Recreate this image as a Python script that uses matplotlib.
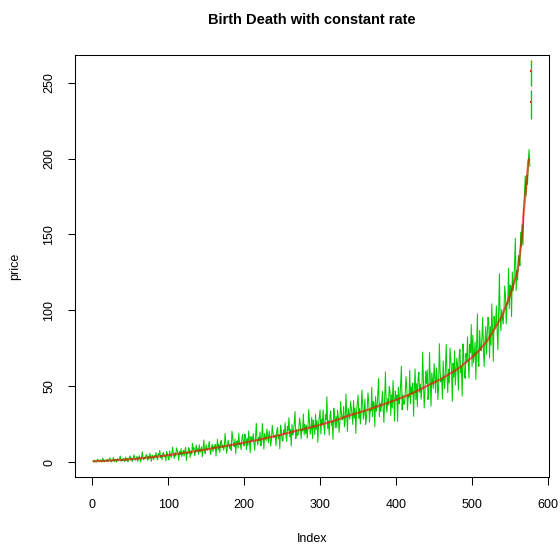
import numpy as np
import matplotlib
matplotlib.use("Agg")
import matplotlib.pyplot as plt

plt.rcParams['font.family'] = ['Liberation Sans', 'DejaVu Sans']

title = "Birth Death with constant rate"
xlabel = "Index"
ylabel = "price"
xticks = [0, 100, 200, 300, 400, 500, 600]
yticks = [0, 50, 100, 150, 200, 250]

# red curve (sorted price), read at knots
red_idx = [1, 20, 40, 60, 80, 100, 120, 140, 160, 180, 200, 220, 240, 260, 280, 300,
           320, 340, 360, 380, 400, 420, 440, 460, 480, 500, 510, 520, 530, 540,
           550, 555, 560, 565, 568, 571, 574, 575]
red_val = [0.5, 0.9, 1.5, 2.3, 3.3, 4.6, 6.0, 7.5, 9.2, 11.0, 12.8, 14.8, 17.0, 19.5,
           22.0, 24.5, 27.5, 31.0, 34.0, 37.5, 41.0, 45.0, 50.0, 55.0, 61.0, 69.0,
           74.0, 80.0, 88.0, 97.0, 110.0, 118.0, 126.0, 145.0, 165.0, 180.0, 198.0, 200.0]
red_top_idx = [577, 578]
red_top_val = [237.0, 258.0]

# green noisy series, index 1..576
green_vals = [
    0.8, 0.1, 1.3, 0.7, 0.1, 0.3, 2.0, 1.1, 0.5, 0.7, 1.6, 0.1, 0.3, 2.6, 1.1, 0.1, 1.4, 1.0, 0.6, 1.9,
    0.4, 1.2, 2.7, 1.9, 0.1, 1.1, 1.0, 3.2, 0.4, 1.8, 1.7, 0.1, 2.3, 0.9, 1.4, 2.6, 4.0, 0.5, 1.7, 0.9,
    2.5, 1.5, 0.3, 3.4, 1.2, 2.5, 0.1, 2.0, 3.1, 4.1, 1.2, 2.5, 0.5, 2.1, 4.8, 3.1, 1.2, 2.0, 3.8, 0.6,
    2.6, 4.2, 1.8, 0.1, 3.4, 6.8, 2.6, 1.5, 3.3, 2.5, 4.9, 4.4, 1.1, 3.9, 2.1, 5.8, 3.4, 0.5, 4.5, 3.3,
    1.6, 4.4, 3.4, 6.3, 3.2, 1.5, 5.5, 4.5, 7.7, 2.9, 4.3, 1.6, 5.5, 6.3, 3.6, 4.3, 0.9, 6.9, 5.6, 3.2,
    1.5, 7.4, 4.3, 3.0, 6.7, 9.9, 5.0, 2.4, 6.1, 3.9, 9.4, 7.7, 5.9, 1.1, 7.0, 4.8, 8.9, 3.6, 5.9, 7.8,
    4.0, 7.6, 9.7, 1.2, 6.3, 5.4, 9.5, 8.6, 3.1, 7.2, 5.3, 12.4, 8.0, 9.5, 4.1, 6.7, 11.3, 7.3, 8.9, 5.0,
    11.4, 6.5, 8.2, 10.0, 3.5, 9.1, 14.6, 6.5, 5.5, 11.6, 8.4, 7.9, 10.2, 13.6, 7.7, 5.0, 9.5, 11.8, 6.9, 10.3,
    9.2, 11.7, 4.0, 10.1, 15.0, 7.9, 11.6, 6.3, 13.0, 14.3, 9.6, 11.4, 7.9, 10.4, 18.9, 12.4, 5.9, 9.6, 14.5, 11.6,
    8.9, 11.8, 7.7, 20.4, 15.6, 11.5, 10.2, 15.2, 5.5, 13.3, 14.1, 9.2, 19.1, 11.5, 12.3, 8.2, 15.3, 18.2, 13.4, 10.7,
    18.4, 16.9, 8.2, 15.5, 10.8, 20.5, 14.2, 6.3, 16.8, 13.7, 14.7, 18.8, 12.5, 7.8, 16.7, 25.6, 14.5, 11.4, 16.3, 14.0,
    19.9, 10.7, 12.5, 25.4, 17.0, 8.6, 18.9, 16.5, 14.1, 21.8, 17.7, 12.7, 20.5, 17.2, 10.5, 14.9, 24.3, 19.4, 16.1, 17.0,
    17.9, 10.8, 20.9, 22.8, 15.7, 17.7, 8.8, 24.2, 20.7, 14.6, 13.8, 21.1, 18.6, 25.9, 17.9, 13.6, 23.6, 21.0, 29.3, 16.8,
    21.5, 10.6, 24.8, 17.9, 20.0, 26.2, 33.3, 15.4, 21.5, 17.7, 17.8, 21.9, 29.1, 25.2, 15.3, 21.5, 20.6, 31.7, 17.9, 25.0,
    18.7, 24.3, 15.7, 22.4, 34.6, 27.1, 18.4, 21.8, 29.6, 15.5, 27.7, 23.4, 18.1, 31.4, 21.6, 27.3, 13.1, 25.3, 29.9, 34.4,
    18.5, 28.3, 24.8, 34.6, 23.9, 18.1, 31.4, 28.0, 43.0, 22.3, 27.3, 17.8, 31.2, 33.7, 24.3, 26.9, 15.0, 35.6, 30.9, 22.7,
    30.0, 22.7, 34.2, 29.4, 19.5, 25.9, 39.9, 32.6, 27.7, 29.1, 36.8, 23.3, 26.0, 44.9, 32.6, 20.2, 35.4, 31.9, 28.3, 39.8,
    36.2, 31.2, 24.8, 40.6, 29.0, 35.7, 18.9, 33.4, 38.8, 44.1, 28.7, 35.3, 25.1, 33.1, 47.5, 38.6, 28.3, 32.4, 41.6, 24.9,
    29.8, 35.6, 45.6, 40.2, 26.3, 34.9, 33.7, 49.3, 29.9, 39.9, 38.6, 23.4, 43.2, 33.6, 36.6, 45.2, 55.1, 30.1, 38.7, 33.3,
    39.0, 46.7, 34.9, 26.1, 42.7, 59.4, 38.6, 32.8, 41.9, 37.6, 49.8, 47.0, 30.7, 44.4, 35.6, 53.7, 41.9, 27.1, 46.8, 41.0,
    44.2, 26.8, 49.4, 38.4, 41.8, 51.7, 63.1, 34.5, 44.3, 38.1, 38.3, 44.9, 56.3, 50.1, 34.3, 44.2, 42.8, 60.6, 38.4, 49.8,
    45.0, 52.1, 30.2, 47.5, 61.4, 41.2, 51.7, 36.6, 55.6, 59.3, 45.9, 51.3, 41.4, 48.4, 72.5, 54.0, 35.6, 46.1, 59.9, 51.7,
    60.8, 41.3, 45.1, 72.4, 54.7, 36.9, 58.8, 53.6, 48.5, 65.0, 56.2, 45.7, 62.2, 55.2, 41.1, 50.3, 78.0, 59.9, 52.9, 55.0,
    41.7, 66.7, 53.7, 48.3, 63.9, 77.5, 56.9, 45.8, 61.3, 52.1, 75.3, 68.0, 60.7, 40.1, 65.1, 55.9, 73.4, 50.9, 60.7, 68.6,
    63.0, 47.4, 69.8, 74.3, 58.7, 63.1, 43.5, 77.9, 70.4, 56.8, 55.2, 71.6, 66.1, 82.5, 64.9, 55.3, 77.7, 72.2, 90.6, 63.0,
    83.7, 65.4, 72.3, 79.1, 54.5, 76.1, 97.7, 66.8, 63.1, 86.8, 74.8, 73.3, 82.2, 95.4, 72.9, 63.0, 80.4, 89.3, 71.0, 84.2,
    95.4, 91.9, 68.6, 89.3, 77.0, 104.3, 87.6, 66.5, 96.0, 88.1, 91.1, 103.0, 86.3, 74.0, 99.1, 124.2, 94.3, 86.4, 100.5, 94.8,
    91.0, 100.5, 116.1, 109.6, 91.1, 104.6, 104.2, 127.7, 101.2, 116.7, 116.3, 95.8, 125.3, 112.8, 118.4, 131.9, 147.4, 113.0, 126.5, 120.0,
    136.0, 134.0, 129.5, 151.5, 142.0, 156.5, 143.0, 166.5, 177.5, 188.5, 175.5, 189.0, 183.0, 198.0, 206.0, 195.0,
]
green_top_idx = [577, 578]
green_top_lo = [226.0, 248.0]
green_top_hi = [245.0, 265.0]

RED = "#FF0000"
GREEN = "#00CD00"

fig = plt.figure(figsize=(5.6, 5.46), dpi=100)
ax = fig.add_axes([0.1346, 0.1264, 0.8455, 0.7729])

ax.plot(red_top_idx, red_top_val, 's', color=RED, ms=2.0, mew=0, zorder=2)
gx = np.arange(1, len(green_vals) + 1)
ax.plot(gx, green_vals, color=GREEN, lw=0.75, zorder=3)
ax.vlines(green_top_idx, green_top_lo, green_top_hi, color=GREEN, lw=1.0, zorder=3)
ax.plot(red_idx, red_val, color=RED, lw=1.6, alpha=0.6, solid_capstyle='butt', zorder=4)

# R-style 4% axis extension
all_x = list(red_idx) + list(red_top_idx)
all_y = list(red_val) + list(red_top_val)
xr = max(all_x) - min(all_x)
yr = max(all_y) - min(all_y)
ax.set_xlim(min(all_x) - 0.04 * xr, max(all_x) + 0.04 * xr)
ax.set_ylim(min(all_y) - 0.04 * yr, max(all_y) + 0.04 * yr)

ax.set_xticks(xticks)
ax.set_yticks(yticks)
ax.set_xticklabels([str(t) for t in xticks])
ax.set_yticklabels([str(t) for t in yticks], rotation=90, va='center')
ax.tick_params(axis='both', direction='out', length=5.4, width=0.75, labelsize=9, colors='black')
ax.tick_params(axis='x', pad=10.5)
ax.tick_params(axis='y', pad=9)
for s in ax.spines.values():
    s.set_linewidth(0.75)
    s.set_color('black')

ax.set_xlabel(xlabel, fontsize=9, labelpad=16)
ax.set_ylabel(ylabel, fontsize=9, labelpad=16)
fig.text(0.556, 1 - 20 / 546, title, ha='center', va='center', fontsize=10.5, fontweight='bold')

fig.savefig("out.png", dpi=100)
